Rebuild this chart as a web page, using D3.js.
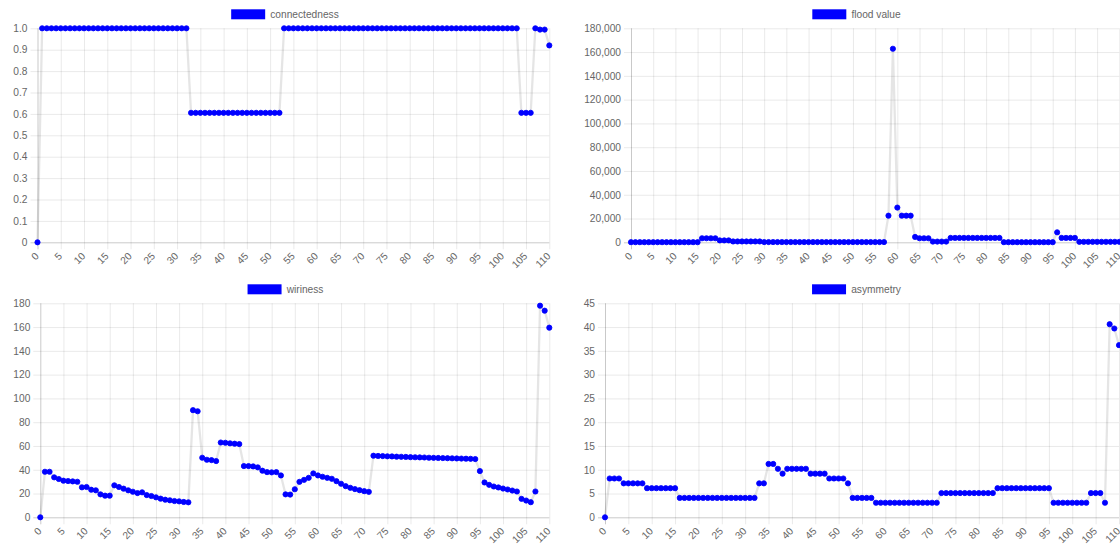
<!DOCTYPE html>
<html>
<head>
<meta charset="utf-8">
<script src="https://cdn.jsdelivr.net/npm/d3@7"></script>
<style>
  html, body { margin: 0; padding: 0; background: #fff; }
  svg { display: block; }
  text { font-family: "Liberation Sans", Arial, Helvetica, sans-serif; fill: #666; }
</style>
</head>
<body>
<svg id="chart" width="1120" height="545"></svg>
<script>
// Sample index along the x axis (0 … 110)
const categories = d3.range(0, 111).map(String);
const xTickLabels = ["0","5","10","15","20","25","30","35","40","45","50","55",
  "60","65","70","75","80","85","90","95","100","105","110"];

const connectedness = [
  0,
  1,1,1,1,1,1,1,1,1,1,1,1,1,1,1,1,1,1,1,1,1,1,1,1,1,1,1,1,1,1,1,1,
  0.605,0.605,0.605,0.605,0.605,0.605,0.605,0.605,0.605,0.605,
  0.605,0.605,0.605,0.605,0.605,0.605,0.605,0.605,0.605,0.605,
  1,1,1,1,1,1,1,1,1,1,1,1,1,1,1,1,1,1,1,1,1,1,1,1,1,1,
  1,1,1,1,1,1,1,1,1,1,1,1,1,1,1,1,1,1,1,1,1,1,1,1,1,
  0.605,0.605,0.605,
  1,0.994,0.994,0.92
];

const floodValue = [
  100,100,100,100,100,100,100,100,100,100,100,100,100,100,100,100,
  3400,3400,3400,3400,
  1600,1600,1600,
  700,700,700,700,700,700,700,
  200,200,200,200,200,200,200,200,200,200,200,200,200,200,
  200,200,200,200,200,200,200,200,200,200,200,200,200,200,
  22400,162800,29200,22400,22400,22400,
  4500,3400,3400,3400,
  600,600,600,600,
  3700,3700,3700,3700,3700,3700,3700,3700,3700,3700,3700,3700,
  100,100,100,100,100,100,100,100,100,100,100,100,
  8400,3700,3700,3700,3700,
  400,400,400,400,400,400,400,400,400,400
];

const wiriness = [
  0,38.3,38.3,33.6,32.2,30.8,30.5,30.2,29.9,25.2,
  25.5,23.2,22.7,19.3,18.2,18.2,26.9,25.5,24.1,22.7,
  21.5,20.4,21.0,18.7,17.9,16.8,15.7,14.8,14.3,13.7,
  13.4,12.9,12.6,90.1,89.2,50.1,48.4,48.1,47.3,62.9,
  62.7,62.2,61.9,61.6,43.1,43.1,42.8,42.0,39.2,38.0,
  37.8,38.0,35.2,19.3,19.1,23.6,29.8,31.5,33.2,36.9,
  35.2,34.1,33.2,32.4,30.4,28.2,26.2,24.8,23.7,22.8,
  22.0,21.4,51.8,51.6,51.5,51.3,51.2,51.0,50.9,50.8,
  50.6,50.5,50.4,50.3,50.1,50.0,49.9,49.8,49.7,49.6,
  49.5,49.4,49.3,49.2,49.0,38.9,29.3,27.3,25.9,25.1,
  24.2,23.4,22.5,21.7,15.5,14.1,12.7,21.7,178,173.8,
  159.5
];

const asymmetry = [
  0,
  8.16,8.16,8.16,
  7.14,7.14,7.14,7.14,7.14,
  6.12,6.12,6.12,6.12,6.12,6.12,6.12,
  4.08,4.08,4.08,4.08,4.08,4.08,4.08,4.08,4.08,4.08,4.08,4.08,4.08,4.08,4.08,4.08,4.08,
  7.14,7.14,
  11.22,11.22,10.2,9.18,
  10.2,10.2,10.2,10.2,10.2,
  9.18,9.18,9.18,9.18,
  8.16,8.16,8.16,8.16,
  7.14,
  4.08,4.08,4.08,4.08,4.08,
  3.06,3.06,3.06,3.06,3.06,3.06,3.06,3.06,3.06,3.06,3.06,3.06,3.06,3.06,
  5.1,5.1,5.1,5.1,5.1,5.1,5.1,5.1,5.1,5.1,5.1,5.1,
  6.12,6.12,6.12,6.12,6.12,6.12,6.12,6.12,6.12,6.12,6.12,6.12,
  3.06,3.06,3.06,3.06,3.06,3.06,3.06,3.06,
  5.1,5.1,5.1,
  3.06,40.6,39.7,36.2
];

// y-axis tick values for each panel
const yTicksConnectedness = [0, 0.1, 0.2, 0.3, 0.4, 0.5, 0.6, 0.7, 0.8, 0.9, 1.0];
const yTicksFlood = [0, 20000, 40000, 60000, 80000, 100000, 120000, 140000, 160000, 180000];
const yTicksWiriness = [0, 20, 40, 60, 80, 100, 120, 140, 160, 180];
const yTicksAsymmetry = [0, 5, 10, 15, 20, 25, 30, 35, 40, 45];

const POINT = "#0000ff";
const GRID = "rgba(0,0,0,0.1)";
const ZERO = "rgba(0,0,0,0.25)";
const FONT = 10.2;

const panels = [
  { name: "connectedness", values: connectedness, ticks: yTicksConnectedness,
    fmt: d => d === 0 ? "0" : d3.format(".1f")(d),
    left: 37.5, right: 549.3, top: 28.3, bottom: 242.3, legendCx: 285, legendY: 9.3 },
  { name: "flood value", values: floodValue, ticks: yTicksFlood,
    fmt: d3.format(","),
    left: 631, right: 1119.3, top: 28.3, bottom: 242.3, legendCx: 856.5, legendY: 9.3 },
  { name: "wiriness", values: wiriness, ticks: yTicksWiriness,
    fmt: d3.format("d"),
    left: 40.3, right: 549.3, top: 303.3, bottom: 517.3, legendCx: 285.5, legendY: 284.3 },
  { name: "asymmetry", values: asymmetry, ticks: yTicksAsymmetry,
    fmt: d3.format("d"),
    left: 605, right: 1119, top: 303.3, bottom: 517.3, legendCx: 856.5, legendY: 284.3 }
];

const svg = d3.select("#chart");

panels.forEach(p => {
  const g = svg.append("g");
  const w = p.right - p.left, h = p.bottom - p.top;
  const x = d3.scalePoint().domain(categories).range([p.left, p.right]);
  const y = d3.scaleLinear()
    .domain([p.ticks[0], p.ticks[p.ticks.length - 1]])
    .range([p.bottom, p.top]);

  // horizontal grid + y labels
  const yAxis = g.append("g")
    .attr("transform", `translate(${p.left},0)`)
    .call(d3.axisLeft(y).tickValues(p.ticks).tickFormat(p.fmt).tickSizeOuter(0));
  yAxis.select(".domain").remove();
  yAxis.selectAll(".tick line")
    .attr("x1", w).attr("x2", -7)
    .attr("stroke", d => d === 0 ? ZERO : GRID).attr("stroke-width", 0.85);
  yAxis.selectAll(".tick text")
    .attr("x", -10).attr("font-size", FONT).attr("fill", "#666")
    .style("font-family", "'Liberation Sans', Arial, sans-serif");

  // vertical grid + rotated x labels
  const xAxis = g.append("g")
    .attr("transform", `translate(0,${p.bottom})`)
    .call(d3.axisBottom(x).tickValues(xTickLabels).tickSizeOuter(0));
  xAxis.select(".domain").remove();
  xAxis.selectAll(".tick line")
    .attr("y1", -h).attr("y2", 7)
    .attr("stroke", d => d === "0" ? ZERO : GRID).attr("stroke-width", 0.85);
  xAxis.selectAll(".tick text")
    .attr("y", 0).attr("dy", "0.35em")
    .attr("text-anchor", "end")
    .attr("transform", "translate(-1,12) rotate(-45)")
    .attr("font-size", FONT).attr("fill", "#666")
    .style("font-family", "'Liberation Sans', Arial, sans-serif");
  g.selectAll(".tick").raise();

  // connecting line
  const line = d3.line()
    .x((d, i) => x(categories[i]))
    .y(d => y(d));
  g.append("path")
    .datum(p.values)
    .attr("d", line)
    .attr("fill", "none")
    .attr("stroke", "rgba(0,0,0,0.1)")
    .attr("stroke-width", 2.3)
    .attr("stroke-linejoin", "round");

  // points
  g.append("g").selectAll("circle")
    .data(p.values)
    .join("circle")
    .attr("cx", (d, i) => x(categories[i]))
    .attr("cy", d => y(d))
    .attr("r", 2.6)
    .attr("fill", POINT)
    .attr("stroke", POINT)
    .attr("stroke-width", 0.85);

  // legend
  const lg = g.append("g");
  const txt = lg.append("text")
    .text(p.name)
    .attr("font-size", FONT)
    .attr("fill", "#666")
    .attr("dominant-baseline", "central");
  const tw = txt.node().getComputedTextLength();
  const boxW = 34, boxH = 10, gap = 5.1;
  const total = boxW + gap + tw;
  const sx = p.legendCx - total / 2;
  lg.insert("rect", "text")
    .attr("x", sx).attr("y", p.legendY)
    .attr("width", boxW).attr("height", boxH)
    .attr("fill", POINT);
  txt.attr("x", sx + boxW + gap).attr("y", p.legendY + boxH / 2);
});
</script>
</body>
</html>
